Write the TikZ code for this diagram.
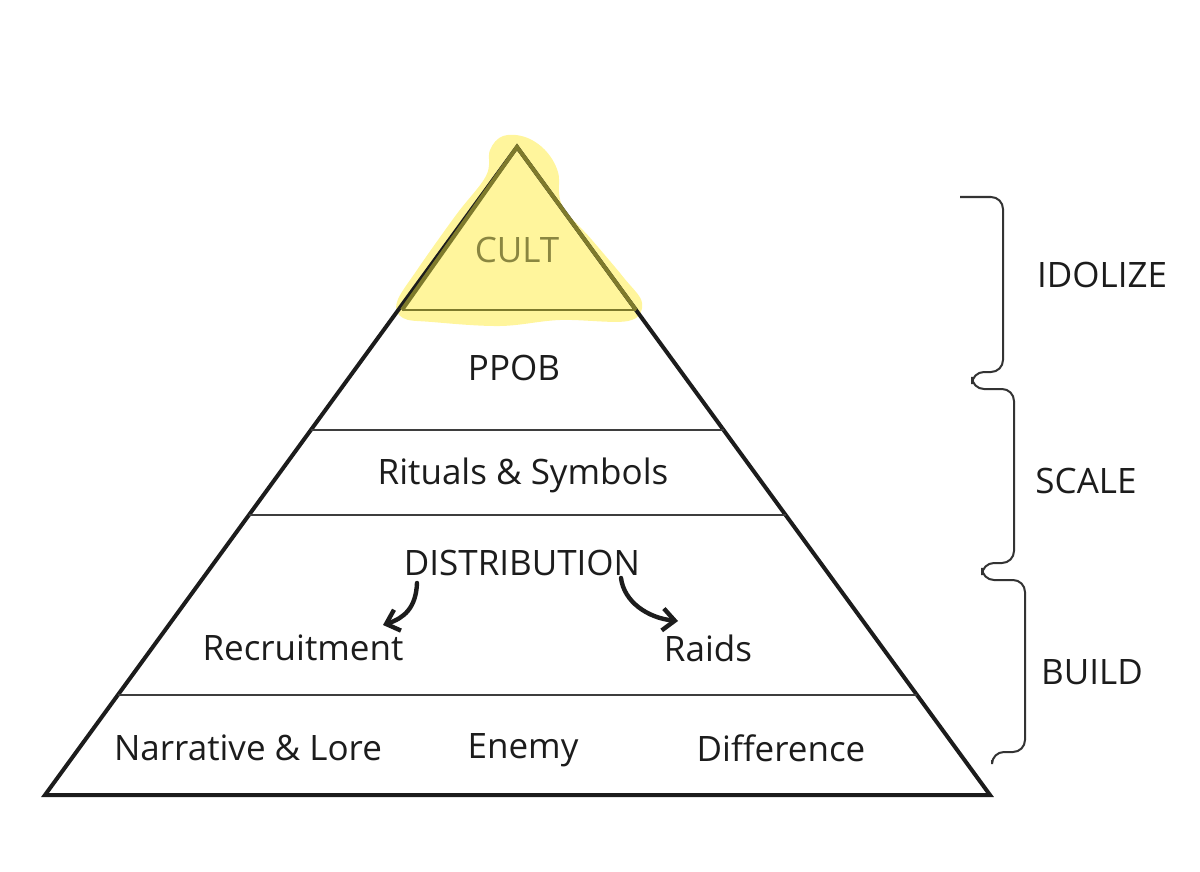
\documentclass[tikz,border=0pt]{standalone}
\usepackage{fontspec}
\setmainfont{Open Sans}
\usetikzlibrary{arrows.meta}
\definecolor{hl}{HTML}{FFF59C}
\definecolor{olive}{HTML}{7E7A2C}
\definecolor{cultc}{HTML}{8A8640}
\definecolor{ink}{HTML}{1C1C1C}
\begin{document}
\begin{tikzpicture}[x=0.5pt,y=-0.5pt,
  lbl/.style={font=\fontsize{17.5}{20}\selectfont, inner sep=0pt, text=ink, anchor=center},
  pyr/.style={draw=ink, line width=2pt, line join=miter},
  tier/.style={draw=ink!85, line width=1.3pt},
  bracepath/.style={draw=ink!90, line width=1pt, rounded corners=6pt},
  flow/.style={draw=ink, line width=2.2pt, line cap=round, -{Straight Barb[length=6pt,width=11pt,line width=2.2pt]}}]
\useasboundingbox (0,0) rectangle (1200,872);
% highlight blob
\fill[hl] plot[smooth cycle, tension=0.6] coordinates {(490,150) (503,136) (525,137) (545,150) (558,172) (562,205) (592,240) (624,278) (642,303) (628,321) (560,320) (500,326) (432,322) (403,318) (397,302) (417,270) (456,215) (486,176)};
% pyramid
\coordinate (apex) at (517,147);
\coordinate (bl) at (45,795);
\coordinate (br) at (990,795);
\draw[pyr] (apex) -- (bl) -- (br) -- cycle;
\draw[tier] (311,430) -- (724,430);
\draw[tier] (249,515) -- (786,515);
\draw[tier] (118,695) -- (917,695);
% highlighted top
\draw[olive, line width=2pt, line join=miter] (402,310) -- (apex) -- (636,310);
\draw[olive, line width=1.3pt] (402,310) -- (636,310);
% labels
\node[lbl, text=cultc] (cult) at (517,250) {CULT};
\node[lbl] (ppob) at (514,368) {PPOB};
\node[lbl] (rit) at (523,475) {Rituals \& Symbols};
\node[lbl] (dist) at (522,563) {DISTRIBUTION};
\node[lbl] (recr) at (303,648) {Recruitment};
\node[lbl] (raids) at (708,648) {Raids};
\node[lbl] (narr) at (248,748) {Narrative \& Lore};
\node[lbl] (enemy) at (523,750) {Enemy};
\node[lbl] (diff) at (781,748) {Difference};
% arrows
\coordinate (ls) at (417,583);
\coordinate (le) at (383,625);
\coordinate (rs) at (621,578);
\coordinate (re) at (678,621);
\draw[flow] (ls) .. controls (416,608) and (404,618) .. (le);
\draw[flow] (rs) .. controls (624,602) and (648,618) .. (re);
% braces
\draw[bracepath] (960,197) -- (1003,197) -- (1003,372) -- (972,372) -- (972,389) -- (1014,389) -- (1014,563) -- (982,563) -- (982,580) -- (1025,580) -- (1025,752) -- (992,752) -- (992,760);
\node[lbl] (idol) at (1102,275) {IDOLIZE};
\node[lbl] (scale) at (1086,481) {SCALE};
\node[lbl] (build) at (1092,672) {BUILD};
\end{tikzpicture}
\end{document}
